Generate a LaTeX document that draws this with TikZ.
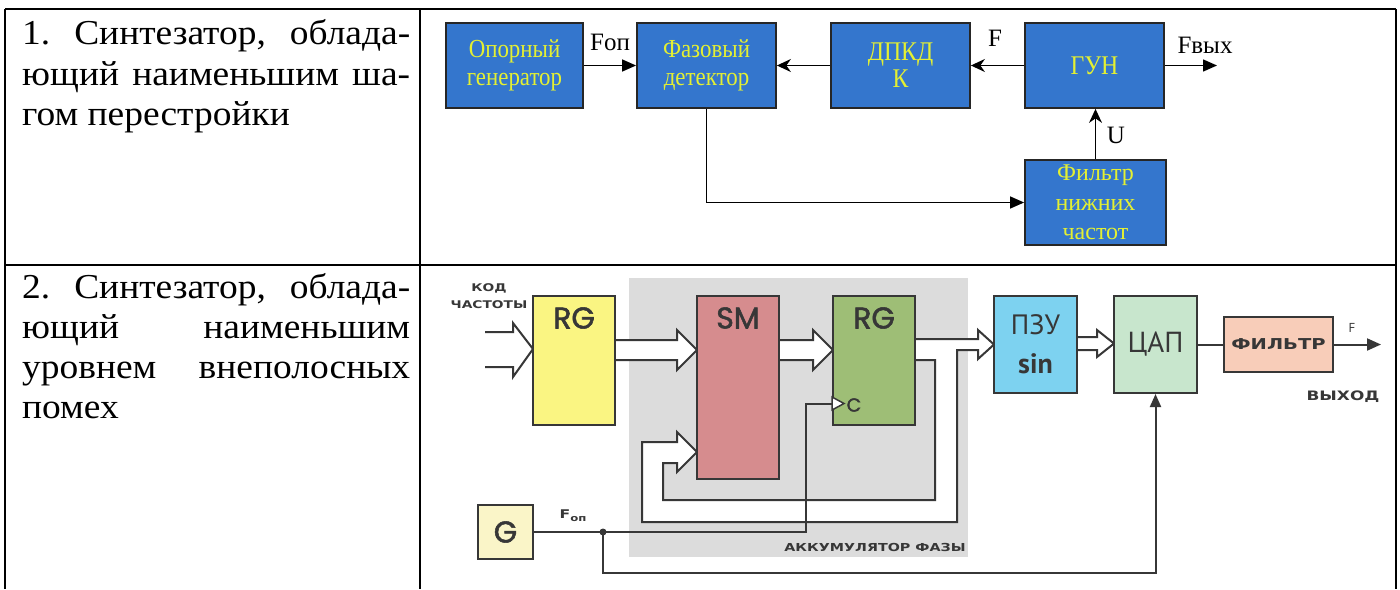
\documentclass[tikz,border=0pt]{standalone}
\usepackage{fontspec}
\setmainfont{Liberation Serif}
\newfontfamily\cellfont[FakeStretch=1.07]{Liberation Serif}
\newfontfamily\narrowserif[FakeStretch=0.88]{Liberation Serif}
\newfontfamily\geo[FakeBold=1.8]{Poppins}
\newfontfamily\ptsans{PT Sans}
\newfontfamily\widesans[FakeStretch=1.3]{DejaVu Sans}
\usetikzlibrary{arrows.meta,calc}
\definecolor{pblue}{RGB}{52,118,205}
\definecolor{pyel}{RGB}{228,240,50}
\definecolor{ln}{RGB}{55,55,55}
\definecolor{acc}{RGB}{220,220,220}
\definecolor{rgy}{RGB}{250,245,130}
\definecolor{smr}{RGB}{214,140,142}
\definecolor{rgg}{RGB}{158,190,118}
\definecolor{pzuc}{RGB}{125,210,240}
\definecolor{capc}{RGB}{200,230,205}
\definecolor{filc}{RGB}{248,205,185}
\definecolor{gc}{RGB}{250,245,200}
\begin{document}
\begin{tikzpicture}[x=1pt,y=-1pt,
  bluebox/.style={draw=black!85, line width=1.8pt, fill=pblue, text=pyel, inner sep=0pt, align=center},
  lbl/.style={text=black, inner sep=0pt, font=\fontsize{25}{27}\selectfont},
  arrT/.style={line width=1.4pt, -{Triangle[length=14pt,width=12pt]}},
  arrS/.style={line width=1.4pt, -{Stealth[length=14pt,width=13pt]}},
  cbox/.style={draw=ln, line width=2pt, inner sep=0pt, align=center, text=ln},
  wire/.style={draw=ln, line width=2pt},
  bus/.style={draw=ln, line width=2pt, fill=white, line join=miter},
  cellline/.style={line width=2.6pt, draw=black},
  celltext/.style={anchor=base west, inner sep=0pt, font=\cellfont\fontsize{35}{40}\selectfont}
]
\useasboundingbox (0,0) rectangle (1400,589);
% table
\draw[cellline] (5,9) -- (1396,9);
\draw[cellline] (5,265) -- (1396,265);
\draw[cellline] (5,9) -- (5,589);
\draw[cellline] (420,9) -- (420,589);
\draw[cellline] (1396,9) -- (1396,589);
% left column texts
\node[celltext] (t11) at (22,44) {\hbox to 388pt{1.\hfill Синтезатор,\hfill облада-}};
\node[celltext] (t12) at (22,85) {\hbox to 388pt{ющий\hfill наименьшим\hfill ша-}};
\node[celltext] (t13) at (22,125) {гом перестройки};
\node[celltext] (t21) at (22,298) {\hbox to 388pt{2.\hfill Синтезатор,\hfill облада-}};
\node[celltext] (t22) at (22,338) {\hbox to 388pt{ющий\hfill наименьшим}};
\node[celltext] (t23) at (22,378) {\hbox to 388pt{уровнем\hfill внеполосных}};
\node[celltext] (t24) at (22,418) {помех};

% ---------- part 1 ----------
\node[bluebox, minimum width=137pt, minimum height=85pt, font=\narrowserif\fontsize{26}{28}\selectfont] (opg) at (514.5,65.5) {Опорный\\генератор};
\node[bluebox, minimum width=139pt, minimum height=85pt, font=\narrowserif\fontsize{26}{28}\selectfont] (fd) at (706.5,65.5) {Фазовый\\детектор};
\node[bluebox, minimum width=139pt, minimum height=85pt, font=\narrowserif\fontsize{27}{27}\selectfont] (dpkd) at (900.5,65.5) {ДПКД\\К};
\node[bluebox, minimum width=139pt, minimum height=85pt, font=\narrowserif\fontsize{27}{27}\selectfont] (gun) at (1094.5,65.5) {ГУН};
\node[bluebox, minimum width=141pt, minimum height=85pt, font=\fontsize{24}{29.5}\selectfont] (fnch) at (1095.5,202.5) {Фильтр\\нижних\\частот};
\coordinate (out1) at (1217,65.5);
\draw[arrT] (opg.east) -- (fd.west);
\draw[arrS] (dpkd.west) -- (fd.east);
\draw[arrS] (gun.west) -- (dpkd.east);
\draw[arrT] (gun.east) -- (out1);
\draw[arrS] (fnch.north) -- (fnch.north |- gun.south);
\draw[arrT] (fd.south) |- (fnch.west);
\node[lbl] (lfop) at (610,42) {Fоп};
\node[lbl] (lf) at (995,38) {F};
\node[lbl] (lfv) at (1205,45) {Fвых};
\node[lbl] (lu) at (1116,135) {U};

% ---------- part 2 ----------
\fill[acc] (629,278) rectangle (968,557);
\node[font=\widesans\bfseries\fontsize{11}{11}\selectfont, text=ln] (acclbl) at (875,547) {АККУМУЛЯТОР ФАЗЫ};
% buses
\draw[bus] (485,332) -- (513,332) -- (513,323) -- (533,349) -- (513,377) -- (513,367) -- (485,367);
\draw[bus] (615,340) -- (677,340) -- (677,330) -- (697,350) -- (677,370) -- (677,360) -- (615,360);
\draw[bus] (779,340) -- (813,340) -- (813,330) -- (833,350) -- (813,370) -- (813,360) -- (779,360);
\draw[bus] (915,339) -- (978,339) -- (978,330) -- (994,344.5) -- (978,359) -- (978,350) -- (957,350)
  -- (957,522) -- (642,522) -- (642,442) -- (677,442) -- (677,432) -- (697,452) -- (677,472)
  -- (677,463) -- (663,463) -- (663,500) -- (935,500) -- (935,360) -- (915,360);
\draw[bus] (1077,337) -- (1097,337) -- (1097,330) -- (1114,343.5) -- (1097,357) -- (1097,350) -- (1077,350);
% boxes
\node[cbox, fill=rgy, minimum width=82pt, minimum height=129pt] (rg1) at (574,360.5) {};
\node[cbox, fill=smr, minimum width=82pt, minimum height=183pt] (sm) at (738,387.5) {};
\node[cbox, fill=rgg, minimum width=82pt, minimum height=129pt] (rg2) at (874,360.5) {};
\node[cbox, fill=pzuc, minimum width=83pt, minimum height=97pt, font=\ptsans\fontsize{28}{41}\selectfont] (pzu) at (1035.5,344.5) {ПЗУ\\[-2pt]{\bfseries sin}};
\node[cbox, fill=capc, minimum width=83pt, minimum height=97pt, font=\ptsans\fontsize{29}{30}\selectfont] (cap) at (1155.5,344.5) {ЦАП};
\node[cbox, fill=filc, minimum width=109pt, minimum height=55pt, font=\widesans\bfseries\fontsize{15}{15}\selectfont] (filt) at (1278.5,344.5) {ФИЛЬТР};
\node[cbox, fill=gc, minimum width=55pt, minimum height=54pt, font=\geo\fontsize{30}{30}\selectfont] (g) at (505.5,532) {G};
\node[font=\geo\fontsize{30}{30}\selectfont, text=ln] (rg1l) at (574,318) {RG};
\node[font=\geo\fontsize{30}{30}\selectfont, text=ln] (sml) at (738,318) {SM};
\node[font=\geo\fontsize{30}{30}\selectfont, text=ln] (rg2l) at (874,318) {RG};
\node[font=\geo\fontsize{19}{19}\selectfont, text=ln] (cl) at (854,405) {C};
\node[font=\widesans\bfseries\fontsize{10.6}{17}\selectfont, text=ln, align=center] (kod) at (489,296) {КОД\\ЧАСТОТЫ};
\node[font=\widesans\bfseries\fontsize{13}{13}\selectfont, text=ln] (vyh) at (1343,397) {ВЫХОД};
\node[font=\ptsans\fontsize{13}{13}\selectfont, text=ln] (fout) at (1352,328) {F};
\node[font=\widesans\bfseries\fontsize{12}{12}\selectfont, text=ln] (fop2) at (573,516) {F\raisebox{-3pt}{\fontsize{9}{9}\selectfont оп}};
% clock and wires
\coordinate (j) at (603,532);
\coordinate (ck1) at (806,532);
\coordinate (ck2) at (806,403.5);
\coordinate (out2) at (1381,344.5);
\draw[wire] (g.east) -- (j) -- (ck1) -- (ck2) -- (ck2 -| rg2.west);
\draw[ln, line width=1.5pt, fill=white] (rg2.west |- 0,397) -- ($(rg2.west |- 0,403.5)+(12,0)$) -- (rg2.west |- 0,410) -- cycle;
\fill[ln] (j) circle (3.5pt);
\draw[wire, -{Triangle[length=13pt,width=11pt]}] (j) -- (j |- 0,573) -| (cap.south);
\draw[wire] (cap.east) -- (filt.west);
\draw[wire, -{Triangle[length=14pt,width=12pt]}] (filt.east) -- (out2);
\end{tikzpicture}
\end{document}
